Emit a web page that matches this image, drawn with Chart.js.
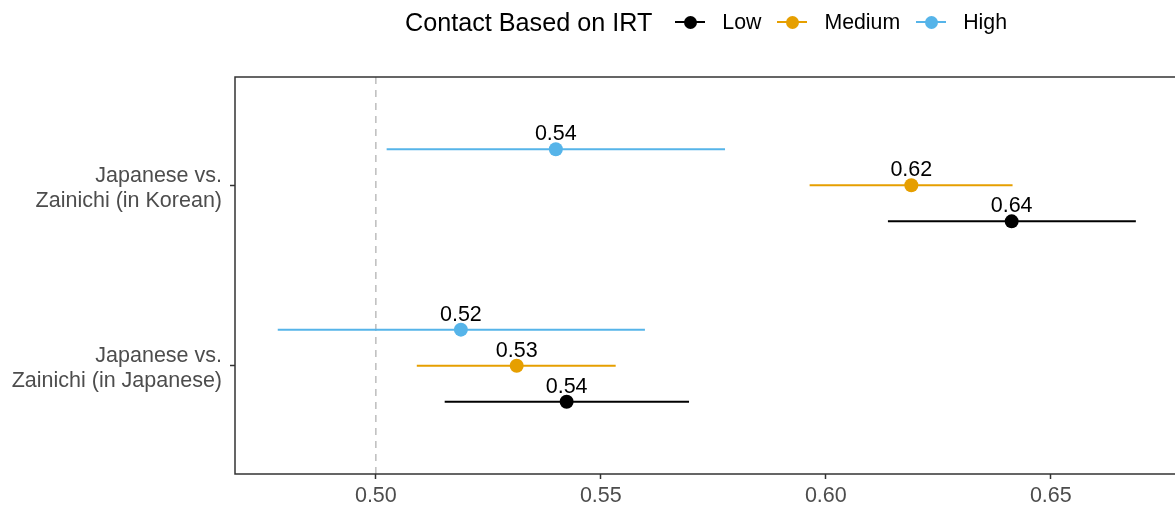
<!DOCTYPE html>
<html>
<head>
<meta charset="utf-8">
<script src="https://cdn.jsdelivr.net/npm/chart.js@4.4.1/dist/chart.umd.min.js"></script>
<style>
  body { margin: 0; overflow: hidden; background: #fff; font-family: 'Liberation Sans', Arial, sans-serif; }
  #wrap { position: absolute; left: 0; top: 0; width: 1175px; height: 508px; overflow: hidden; }
  #grafico { position: absolute; left: 0; top: 0; }
  #legend { position: absolute; left: 405px; top: 6px; height: 32px; display: flex; align-items: center; white-space: nowrap; }
  #legend .ttl { font-size: 25.2px; margin-right: 23px; }
  #legend .key { position: relative; display: inline-block; width: 30px; height: 14px; margin-right: 17px; }
  #legend .key .ln { position: absolute; left: 0; right: 0; top: 6px; height: 2px; }
  #legend .key .pt { position: absolute; left: 8.5px; top: 0.5px; width: 13px; height: 13px; border-radius: 50%; }
  #legend .lab { font-size: 21.3px; margin-right: 16px; }
</style>
</head>
<body>
<div id="wrap">
  <canvas id="grafico" width="1175" height="508"></canvas>
  <div id="legend"></div>
</div>
<script>
// comparações (y = 1, 2 de baixo para cima)
const comparacoes = [
  ['Japanese vs.', 'Zainichi (in Japanese)'],
  ['Japanese vs.', 'Zainichi (in Korean)']
];
const niveis = ['Low', 'Medium', 'High'];
const cores = ['#000000', '#E69F00', '#56B4E9'];

// estimativas e intervalos por nível, na ordem de comparacoes
const estLow = [0.5424, 0.6413];
const infLow = [0.5153, 0.6138];
const supLow = [0.5696, 0.6689];

const estMedium = [0.5313, 0.6190];
const infMedium = [0.5091, 0.5964];
const supMedium = [0.5533, 0.6415];

const estHigh = [0.5189, 0.5400];
const infHigh = [0.4782, 0.5024];
const supHigh = [0.5598, 0.5776];

const xTicks = [0.50, 0.55, 0.60, 0.65];
const referencia = 0.50;

const estimativas = [estLow, estMedium, estHigh];
const inferiores = [infLow, infMedium, infHigh];
const superiores = [supLow, supMedium, supHigh];
const deslocamento = [-0.2, 0, 0.2];

Chart.defaults.font.family = "'Liberation Sans', Arial, sans-serif";

// legenda
const legenda = document.getElementById('legend');
legenda.innerHTML = '<span class="ttl">Contact Based on IRT</span>';
niveis.forEach((n, i) => {
  legenda.innerHTML += `<span class="key"><i class="ln" style="background:${cores[i]}"></i><i class="pt" style="background:${cores[i]}"></i></span><span class="lab">${n}</span>`;
});

const datasets = [];

// linha de referência tracejada
datasets.push({
  type: 'line',
  data: [{ x: referencia, y: 0.4 }, { x: referencia, y: 2.6 }],
  borderColor: '#bdbdbd',
  borderWidth: 1.5,
  borderDash: [7, 6],
  pointRadius: 0,
  order: 3
});

niveis.forEach((n, i) => {
  comparacoes.forEach((c, j) => {
    datasets.push({
      type: 'line',
      data: [
        { x: inferiores[i][j], y: j + 1 + deslocamento[i] },
        { x: superiores[i][j], y: j + 1 + deslocamento[i] }
      ],
      borderColor: cores[i],
      borderWidth: 2,
      pointRadius: 0,
      order: 2
    });
  });
  datasets.push({
    type: 'scatter',
    label: n,
    data: estimativas[i].map((v, j) => ({ x: v, y: j + 1 + deslocamento[i] })),
    backgroundColor: cores[i],
    borderWidth: 0,
    pointRadius: 7,
    rotulo: true,
    order: 1
  });
});

const rotulos = {
  id: 'rotulos',
  afterDatasetsDraw(chart) {
    const ctx = chart.ctx;
    ctx.save();
    ctx.font = "21.5px 'Liberation Sans', Arial, sans-serif";
    ctx.fillStyle = '#000';
    ctx.textAlign = 'center';
    ctx.textBaseline = 'alphabetic';
    chart.data.datasets.forEach((ds, i) => {
      if (!ds.rotulo) return;
      chart.getDatasetMeta(i).data.forEach((el, k) => {
        ctx.fillText(ds.data[k].x.toFixed(2), el.x, el.y - 9);
      });
    });
    ctx.restore();
  }
};

// moldura do painel (lado direito fica fora da tela)
const moldura = {
  id: 'moldura',
  afterDraw(chart) {
    const a = chart.chartArea;
    const ctx = chart.ctx;
    ctx.save();
    ctx.strokeStyle = '#333333';
    ctx.lineWidth = 1.5;
    ctx.beginPath();
    ctx.moveTo(chart.width, a.top);
    ctx.lineTo(a.left, a.top);
    ctx.lineTo(a.left, a.bottom);
    ctx.lineTo(chart.width, a.bottom);
    ctx.stroke();
    ctx.restore();
  }
};

new Chart(document.getElementById('grafico'), {
  type: 'scatter',
  data: { datasets },
  options: {
    responsive: false,
    animation: false,
    layout: { autoPadding: false, padding: { top: 77, right: 0, left: 0, bottom: 0 } },
    plugins: {
      legend: { display: false },
      tooltip: { enabled: false }
    },
    scales: {
      x: {
        type: 'linear',
        min: 0.4687,
        max: 0.6776,
        afterBuildTicks: s => { s.ticks = xTicks.map(v => ({ value: v })); },
        afterFit: s => { s.height = 34; },
        border: { display: false },
        grid: { drawOnChartArea: false, drawTicks: true, tickLength: 5, tickColor: '#333333', tickWidth: 1.5 },
        ticks: {
          color: '#4d4d4d',
          font: { size: 21.5 },
          padding: 4,
          maxRotation: 0,
          callback: v => v.toFixed(2)
        }
      },
      y: {
        type: 'linear',
        min: 0.4,
        max: 2.6,
        afterBuildTicks: s => { s.ticks = comparacoes.map((c, j) => ({ value: j + 1 })); },
        afterFit: s => { s.width = 235; },
        border: { display: false },
        grid: { drawOnChartArea: false, drawTicks: true, tickLength: 5, tickColor: '#333333', tickWidth: 1.5 },
        ticks: {
          color: '#4d4d4d',
          font: { size: 21.5, lineHeight: 1.17 },
          padding: 8,
          labelOffset: 3,
          callback: v => comparacoes[Math.round(v) - 1]
        }
      }
    }
  },
  plugins: [rotulos, moldura]
});
</script>
</body>
</html>
